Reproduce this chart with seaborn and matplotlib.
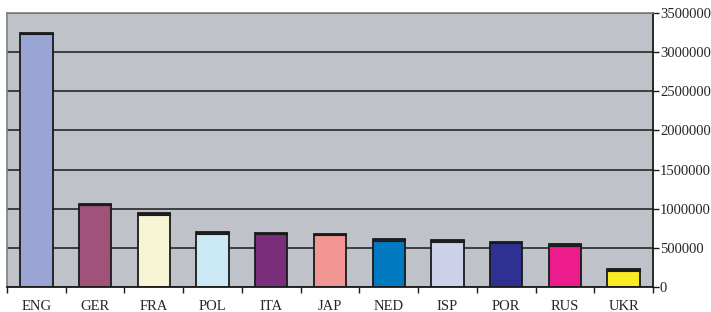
import matplotlib
matplotlib.use("Agg")
import matplotlib.pyplot as plt
import numpy as np
import pandas as pd
import seaborn as sns
from matplotlib.ticker import FixedLocator

countries = ["ENG", "GER", "FRA", "POL", "ITA", "JAP", "NED", "ISP", "POR", "RUS", "UKR"]
values = [3250000, 1065000, 945000, 700000, 695000, 680000, 615000, 595000, 578000, 545000, 225000]
bar_colors = ["#9BA5D5", "#A0527A", "#F6F4D4", "#CBE9F4", "#7B2E7B", "#F19693",
              "#0079C1", "#CDD1EA", "#2E3192", "#EC1C8C", "#F9EC25"]
y_ticks = [0, 500000, 1000000, 1500000, 2000000, 2500000, 3000000, 3500000]

df = pd.DataFrame({"country": countries, "value": values})

sns.set_theme(style="white")
plt.rcParams["font.family"] = ["Liberation Serif", "DejaVu Serif"]

fig = plt.figure(figsize=(7.11, 3.12), dpi=100)
fig.patch.set_facecolor("white")
ax = fig.add_axes([7 / 711, 25 / 312, 646 / 711, 274 / 312])
ax.set_facecolor("#C0C2C9")

ax.set_axisbelow(True)
ax.yaxis.grid(True, color="#1A1A1A", linewidth=1.1)
ax.xaxis.grid(False)

sns.barplot(data=df, x="country", y="value", hue="country", palette=bar_colors,
            legend=False, width=0.55, edgecolor="#1A1A1A", linewidth=1.3,
            saturation=1, ax=ax)

# thin dark top cap, imitating the 3D depth face
cap = 22000
ax.bar(np.arange(len(countries)), [cap] * len(values),
       bottom=np.array(values) - cap, width=0.55, color="#222222",
       edgecolor="#1A1A1A", linewidth=0.8, zorder=3)

ax.set_xlim(-0.5, len(countries) - 0.5)
ax.set_ylim(0, 3500000)
ax.set_yticks(y_ticks)
ax.set_yticklabels([str(v) for v in y_ticks])
ax.yaxis.tick_right()
ax.tick_params(axis="y", which="major", direction="out", length=4, width=1,
               color="#1A1A1A", labelsize=10.5, pad=1, right=True, left=False)

ax.xaxis.set_minor_locator(FixedLocator(np.arange(len(countries) + 1) - 0.5))
ax.tick_params(axis="x", which="major", length=0, labelsize=10.5, pad=9)
ax.tick_params(axis="x", which="minor", direction="out", length=4, width=1,
               color="#1A1A1A", bottom=True)
ax.set_xlabel("")
ax.set_ylabel("")

for side in ["top", "left"]:
    ax.spines[side].set_color("#808080")
    ax.spines[side].set_linewidth(1.2)
ax.spines["right"].set_color("#1A1A1A")
ax.spines["right"].set_linewidth(1.3)
ax.spines["bottom"].set_color("#1A1A1A")
ax.spines["bottom"].set_linewidth(1.3)

fig.savefig("out.png", dpi=100)
plt.close(fig)
